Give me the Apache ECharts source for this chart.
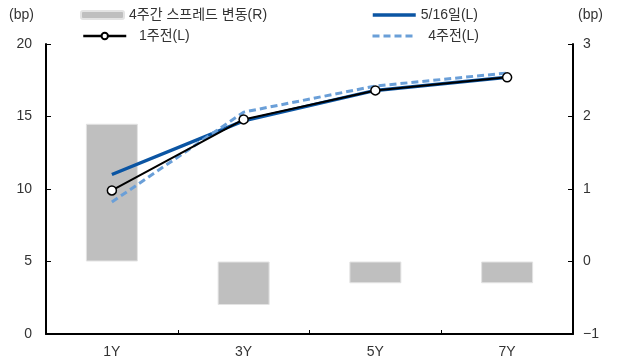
<!DOCTYPE html>
<html>
<head>
<meta charset="utf-8">
<script src="https://cdn.jsdelivr.net/npm/echarts@6/dist/echarts.min.js"></script>
<style>
  html, body { margin: 0; padding: 0; background: #fff; }
  #chart { width: 626px; height: 364px; }
</style>
</head>
<body>
<div id="chart"></div>
<script>
// Yield curve spread by tenor (bp)
const tenors = ['1Y', '3Y', '5Y', '7Y'];
const change4w = [1.9, -0.6, -0.3, -0.3];      // 4주간 스프레드 변동 (right axis)
const spreadNow = [11.0, 14.7, 16.8, 17.7];    // 5/16일
const spread1w = [9.9, 14.8, 16.8, 17.7];      // 1주전
const spread4w = [9.1, 15.3, 17.1, 18.0];      // 4주전
const leftTicks = { min: 0, max: 20, step: 5 };
const rightTicks = { min: -1, max: 3, step: 1 };

const FONT = '"Liberation Sans", "Noto Sans CJK KR", sans-serif';
const TXT = '#333333';

const chart = echarts.init(document.getElementById('chart'), null, { renderer: 'canvas' });

function legendAt(name, left, top, extra) {
  return Object.assign({
    data: [name],
    left: left,
    top: top,
    itemWidth: 43,
    itemHeight: 8,
    padding: 0,
    selectedMode: false,
    textStyle: { fontFamily: FONT, fontSize: 14, color: TXT }
  }, extra || {});
}

chart.setOption({
  animation: false,
  textStyle: { fontFamily: FONT },
  grid: { left: 46, right: 53, top: 44, bottom: 30, containLabel: false },
  graphic: [
    { type: 'text', left: 9, top: 8, style: { text: '(bp)', fontFamily: FONT, fontSize: 14, fill: TXT } },
    { type: 'text', left: 578, top: 8, style: { text: '(bp)', fontFamily: FONT, fontSize: 14, fill: TXT } }
  ],
  legend: [
    legendAt('4주간 스프레드 변동(R)', 80, 8),
    legendAt('5/16일(L)', 371, 8, {
      itemStyle: { opacity: 0 },
      lineStyle: { width: 3.5, color: '#0B55A3' }
    }),
    legendAt('1주전(L)', 82, 29, {
      formatter: n => '  ' + n,
      lineStyle: { width: 2.5, color: '#000' }
    }),
    legendAt('4주전(L)', 371, 29, {
      formatter: n => '  ' + n,
      itemStyle: { opacity: 0 },
      lineStyle: { width: 3, color: '#6A9FD8', type: [7, 4] }
    })
  ],
  xAxis: {
    type: 'category',
    data: tenors,
    boundaryGap: true,
    axisLine: { lineStyle: { color: '#000', width: 2 } },
    axisTick: { show: true, inside: true, length: 4, lineStyle: { color: '#000', width: 1 } },
    axisLabel: { color: TXT, fontSize: 14, fontFamily: FONT, margin: 11 },
    splitLine: { show: false }
  },
  yAxis: [
    {
      type: 'value',
      min: leftTicks.min, max: leftTicks.max, interval: leftTicks.step,
      position: 'left',
      axisLine: { show: true, lineStyle: { color: '#000', width: 2 } },
      axisTick: { show: true, inside: true, length: 5, lineStyle: { color: '#000', width: 1 } },
      axisLabel: { color: TXT, fontSize: 14, fontFamily: FONT, margin: 14 },
      splitLine: { show: false }
    },
    {
      type: 'value',
      min: rightTicks.min, max: rightTicks.max, interval: rightTicks.step,
      position: 'right',
      axisLine: { show: true, lineStyle: { color: '#000', width: 2 } },
      axisTick: { show: true, inside: true, length: 5, lineStyle: { color: '#000', width: 1 } },
      axisLabel: {
        color: TXT, fontSize: 14, fontFamily: FONT, margin: 10,
        formatter: v => String(v).replace('-', '\u2212')
      },
      splitLine: { show: false }
    }
  ],
  series: [
    {
      name: '4주간 스프레드 변동(R)',
      type: 'bar',
      yAxisIndex: 1,
      data: change4w,
      barWidth: 52,
      itemStyle: { color: '#BFBFBF', borderColor: '#E3E3E3', borderWidth: 1 }
    },
    {
      name: '5/16일(L)',
      type: 'line',
      data: spreadNow,
      symbol: 'none',
      lineStyle: { color: '#0B55A3', width: 3.5 },
      itemStyle: { color: '#0B55A3' }
    },
    {
      name: '4주전(L)',
      type: 'line',
      data: spread4w,
      symbol: 'none',
      lineStyle: { color: '#6A9FD8', width: 3, type: [7, 4] },
      itemStyle: { color: '#6A9FD8' }
    },
    {
      name: '1주전(L)',
      type: 'line',
      data: spread1w,
      symbol: 'circle',
      symbolSize: 9,
      lineStyle: { color: '#000', width: 2 },
      itemStyle: { color: '#fff', borderColor: '#000', borderWidth: 1.5 }
    }
  ]
});
</script>
</body>
</html>
